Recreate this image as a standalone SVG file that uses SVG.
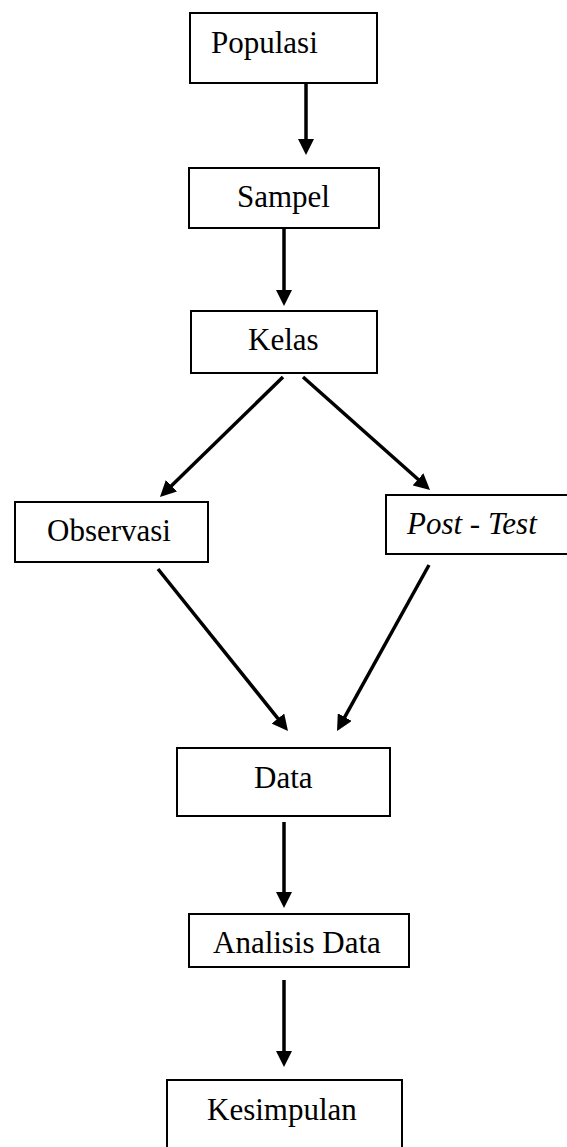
<svg xmlns="http://www.w3.org/2000/svg" width="567" height="1147" viewBox="0 0 567 1147">
<style>
.box{fill:#fff;stroke:#000;stroke-width:2}
.lbl{font-family:"Liberation Serif","Times New Roman",serif;font-size:31px;fill:#000}
.it{font-style:italic}
.conn{stroke:#000;stroke-width:3.5;fill:none}
</style>
<defs>
<marker id="ah" markerUnits="userSpaceOnUse" markerWidth="16" markerHeight="16" refX="1" refY="8" orient="auto">
<path d="M0,0 L16,8 L0,16 z" fill="#000"/>
</marker>
</defs>
<rect width="567" height="1147" fill="#fff"/>
<g id="connectors">
<line class="conn" x1="306" y1="83" x2="306" y2="140" marker-end="url(#ah)"/>
<line class="conn" x1="284" y1="228" x2="284" y2="291" marker-end="url(#ah)"/>
<line class="conn" x1="283" y1="377" x2="170.7" y2="486.5" marker-end="url(#ah)"/>
<line class="conn" x1="303" y1="377" x2="418.8" y2="480" marker-end="url(#ah)"/>
<line class="conn" x1="158" y1="569" x2="278.6" y2="719.3" marker-end="url(#ah)"/>
<line class="conn" x1="429" y1="565" x2="344.3" y2="717.9" marker-end="url(#ah)"/>
<line class="conn" x1="284" y1="822" x2="284" y2="893" marker-end="url(#ah)"/>
<line class="conn" x1="284" y1="980" x2="284" y2="1052" marker-end="url(#ah)"/>
</g>
<g id="populasi"><rect class="box" x="190" y="13" width="187" height="70"/><text class="lbl" x="211" y="53">Populasi</text></g>
<g id="sampel"><rect class="box" x="189" y="168" width="190" height="60"/><text class="lbl" x="237" y="207">Sampel</text></g>
<g id="kelas"><rect class="box" x="191" y="311" width="186" height="62"/><text class="lbl" x="248" y="350">Kelas</text></g>
<g id="observasi"><rect class="box" x="15" y="502" width="193" height="60"/><text class="lbl" x="47" y="541">Observasi</text></g>
<g id="posttest"><rect class="box" x="386" y="495" width="183" height="59"/><text class="lbl it" x="407" y="534">Post - Test</text></g>
<g id="data"><rect class="box" x="177" y="748" width="213" height="68"/><text class="lbl" x="254" y="788">Data</text></g>
<g id="analisis"><rect class="box" x="189" y="914" width="220" height="53"/><text class="lbl" x="213" y="953">Analisis Data</text></g>
<g id="kesimpulan"><rect class="box" x="167" y="1080" width="235" height="80"/><text class="lbl" x="207" y="1120">Kesimpulan</text></g>
</svg>
